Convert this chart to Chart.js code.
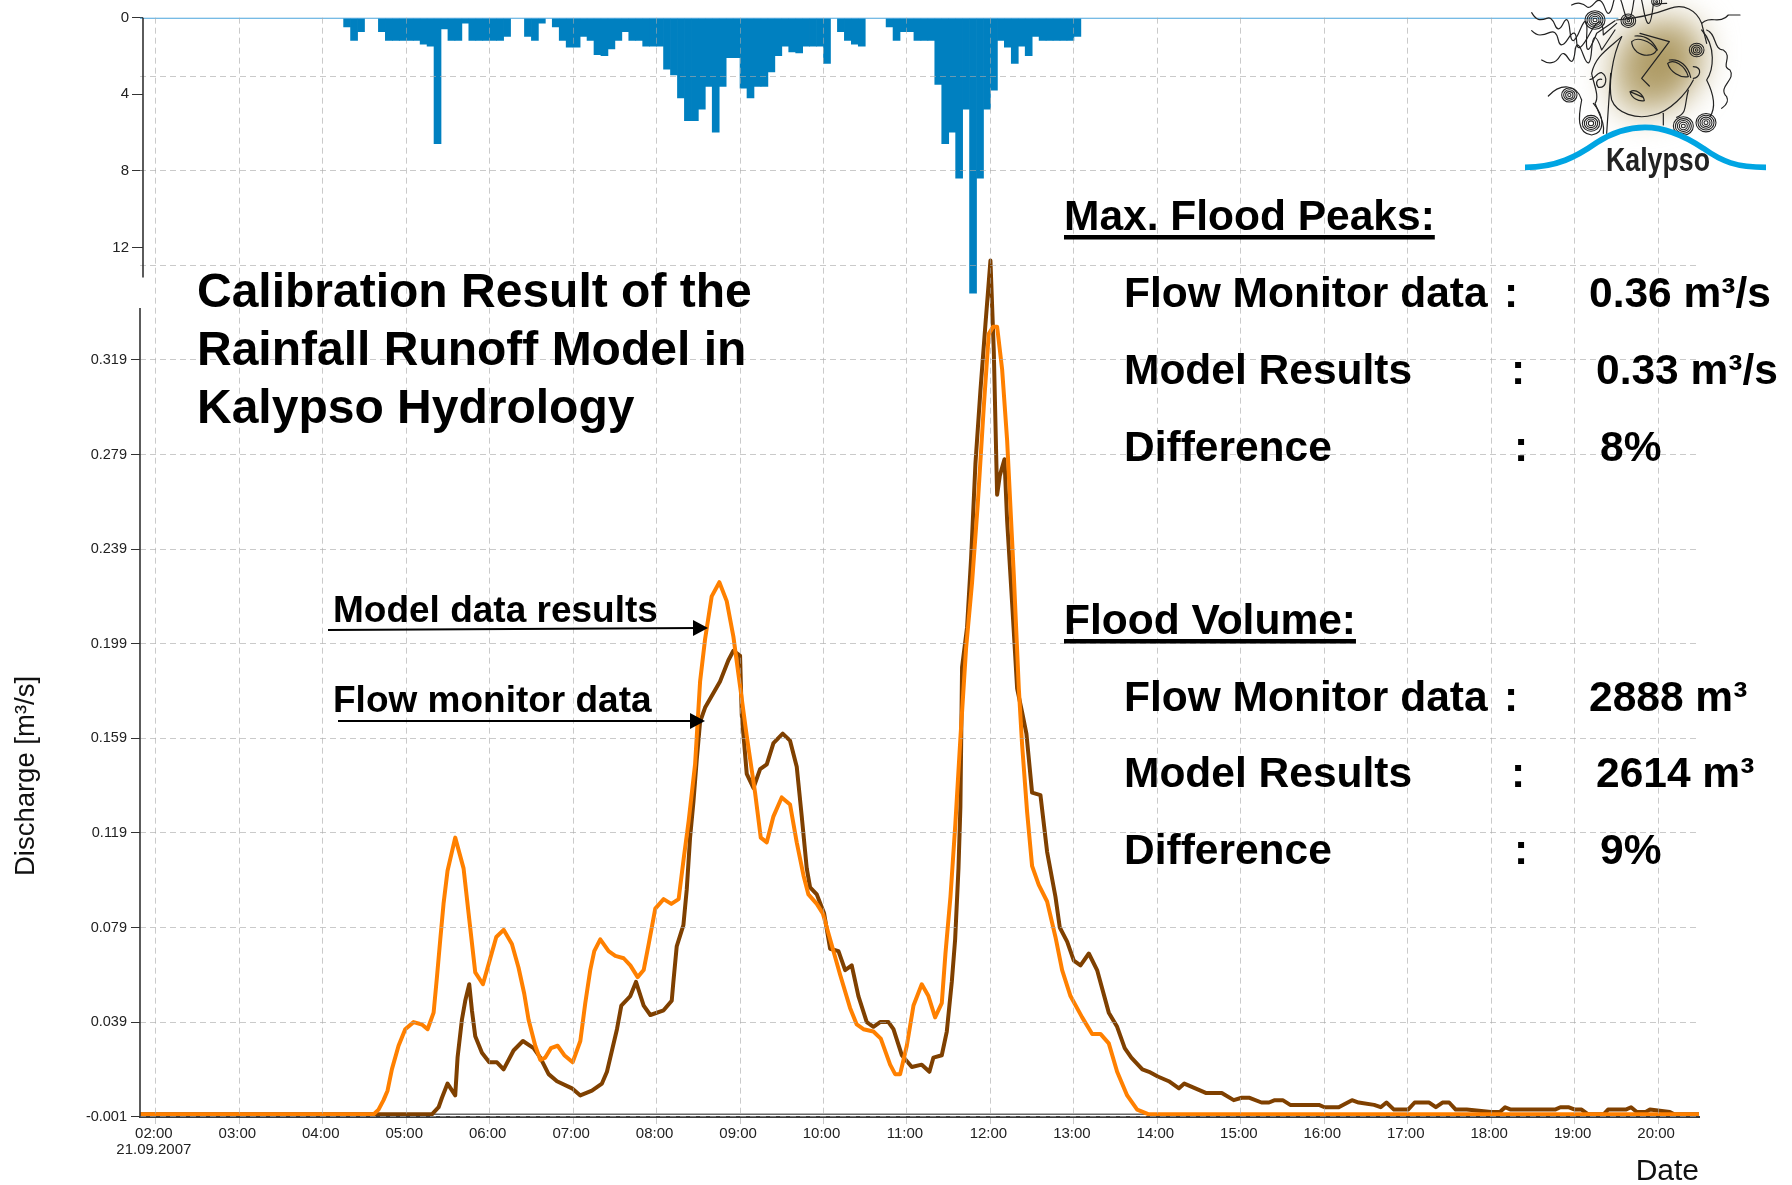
<!DOCTYPE html>
<html>
<head>
<meta charset="utf-8">
<script src="https://cdn.jsdelivr.net/npm/chart.js@4"></script>
<style>html,body{margin:0;padding:0;background:#fff}canvas{display:block}</style>
</head>
<body>
<canvas id="c" width="1792" height="1185"></canvas>
<script>
// ---------- data (time in decimal hours of 21.09.2007, discharge in m3/s, rain in mm) ----------
const modelHours = [1.81,4.608,4.668,4.728,4.776,4.828,4.908,4.988,5.088,5.188,5.256,5.328,5.368,5.408,5.447,5.495,5.587,5.687,5.747,5.827,5.919,5.999,6.079,6.167,6.266,6.346,6.414,6.466,6.546,6.606,6.666,6.734,6.814,6.894,6.994,7.086,7.145,7.205,7.253,7.325,7.425,7.505,7.605,7.685,7.773,7.845,7.905,7.984,8.084,8.176,8.264,8.324,8.384,8.461,8.521,8.581,8.660,8.752,8.840,8.920,9.000,9.080,9.180,9.248,9.320,9.400,9.499,9.599,9.679,9.760,9.819,9.919,9.991,10.079,10.199,10.318,10.398,10.478,10.598,10.686,10.798,10.858,10.918,10.998,11.078,11.177,11.257,11.337,11.417,11.461,11.521,11.580,11.640,11.708,11.780,11.848,11.920,11.980,12.032,12.080,12.140,12.200,12.280,12.340,12.380,12.439,12.499,12.579,12.679,12.779,12.859,12.959,13.099,13.219,13.318,13.418,13.518,13.638,13.758,13.898,20.49];
const modelValues = [0,0,.002,.006,.010,.019,.029,.036,.039,.038,.036,.043,.058,.074,.089,.103,.117,.104,.085,.060,.055,.065,.075,.078,.072,.062,.051,.040,.029,.023,.024,.028,.029,.025,.022,.031,.047,.061,.069,.074,.069,.067,.066,.063,.058,.061,.072,.087,.091,.089,.091,.108,.124,.148,.183,.201,.219,.225,.217,.202,.181,.160,.136,.117,.115,.126,.134,.131,.115,.101,.093,.089,.085,.074,.059,.045,.038,.036,.035,.032,.021,.017,.017,.029,.046,.055,.050,.041,.047,.068,.092,.123,.159,.197,.225,.258,.299,.330,.333,.333,.315,.285,.228,.180,.156,.128,.105,.097,.090,.075,.061,.050,.041,.034,.034,.030,.018,.008,.002,0,0];
const monitorHours = [1.81,5.308,5.388,5.428,5.495,5.587,5.615,5.667,5.707,5.755,5.787,5.827,5.907,5.995,6.087,6.167,6.286,6.398,6.526,6.606,6.706,6.806,6.986,7.086,7.225,7.345,7.405,7.465,7.525,7.577,7.685,7.753,7.845,7.925,8.084,8.181,8.201,8.241,8.321,8.361,8.401,8.441,8.481,8.521,8.581,8.760,8.860,8.920,9.000,9.020,9.080,9.160,9.240,9.320,9.400,9.511,9.599,9.679,9.739,9.799,9.839,9.919,10.007,10.079,10.179,10.259,10.338,10.418,10.518,10.598,10.678,10.778,10.838,10.938,11.058,11.177,11.269,11.317,11.417,11.477,11.537,11.577,11.617,11.640,11.660,11.720,11.768,11.820,11.880,11.940,12.000,12.040,12.080,12.112,12.168,12.200,12.260,12.320,12.380,12.431,12.499,12.599,12.679,12.779,12.831,12.919,12.999,13.079,13.179,13.278,13.418,13.518,13.609,13.688,13.820,13.900,14.005,14.137,14.259,14.323,14.455,14.587,14.772,14.915,15.010,15.105,15.248,15.338,15.407,15.502,15.592,15.935,16.004,16.173,16.332,16.412,16.597,16.676,16.745,16.835,17.004,17.083,17.257,17.337,17.416,17.496,17.575,17.707,17.998,18.104,18.167,18.236,18.447,18.765,18.829,18.924,19.003,19.083,19.162,19.347,19.400,19.612,19.676,19.745,19.850,19.902,20.140,20.193,20.49];
const monitorValues = [0,0,.003,.007,.013,.008,.024,.040,.048,.055,.044,.033,.026,.022,.022,.019,.027,.031,.028,.024,.017,.014,.011,.008,.010,.013,.018,.027,.036,.046,.050,.056,.046,.042,.044,.048,.056,.071,.080,.095,.117,.132,.150,.166,.172,.183,.192,.196,.194,.169,.144,.138,.146,.148,.157,.161,.158,.147,.126,.104,.096,.093,.085,.070,.069,.061,.063,.050,.039,.037,.039,.039,.036,.025,.020,.021,.018,.024,.025,.035,.056,.074,.104,.130,.189,.206,.235,.275,.306,.334,.361,.323,.262,.270,.277,.251,.216,.180,.170,.161,.136,.135,.111,.092,.079,.073,.065,.063,.068,.061,.043,.037,.028,.024,.019,.018,.016,.014,.011,.013,.011,.009,.009,.006,.007,.007,.005,.005,.006,.006,.004,.004,.003,.003,.006,.005,.004,.003,.005,.002,.002,.005,.005,.003,.005,.005,.002,.002,.001,.001,.003,.002,.002,.002,.003,.003,.002,.002,0,0,.002,.002,.003,.001,.001,.002,.001,0,0];
const rainMinutes = [257.5,262.5,267.5,272.5,277.5,282.5,287.5,292.5,297.5,302.5,307.5,312.5,317.5,322.5,327.5,332.5,337.5,342.5,347.5,352.5,357.5,362.5,367.5,372.5,377.5,382.5,387.5,392.5,397.5,402.5,407.5,412.5,417.5,422.5,427.5,432.5,437.5,442.5,447.5,452.5,457.5,462.5,467.5,472.5,477.5,482.5,487.5,492.5,497.5,502.5,507.5,512.5,517.5,522.5,527.5,532.5,537.5,542.5,547.5,552.5,557.5,562.5,567.5,572.5,577.5,582.5,587.5,592.5,597.5,602.5,607.5,612.5,617.5,622.5,627.5,632.5,637.5,642.5,647.5,652.5,657.5,662.5,667.5,672.5,677.5,682.5,687.5,692.5,697.5,702.5,707.5,712.5,717.5,722.5,727.5,732.5,737.5,742.5,747.5,752.5,757.5,762.5,767.5,772.5,777.5,782.5];
const rainValues = [.5,1.2,.75,0,0,.75,1.2,1.2,1.2,1.2,1.2,1.4,1.5,6.6,.6,1.2,1.2,.3,1.2,1.2,1.2,1.2,1.2,1.0,0,0,1.0,1.2,.3,0,.5,1.2,1.55,1.55,1.0,1.2,1.95,2.0,1.65,1.2,.75,1.2,1.2,1.5,1.5,1.5,2.7,3.0,4.2,5.4,5.4,4.8,3.6,6.0,3.6,2.1,2.1,3.7,4.2,3.6,3.6,2.85,2.0,1.5,1.8,1.85,1.5,1.5,1.5,2.4,0,.75,1.2,1.4,1.5,0,0,0,.5,1.2,.75,.75,1.2,1.2,1.2,3.5,6.6,6.0,8.4,4.8,14.4,8.4,4.8,3.8,1.2,1.55,2.4,1.5,2.0,1.0,1.2,1.2,1.2,1.2,1.2,1.0];
const zeroHours = [1.81,20.49];
const zeroValues = [0,0];
const hourTicks = [2,3,4,5,6,7,8,9,10,11,12,13,14,15,16,17,18,19,20];
const hourLabels = [['02:00','21.09.2007'],'03:00','04:00','05:00','06:00','07:00','08:00','09:00','10:00','11:00','12:00','13:00','14:00','15:00','16:00','17:00','18:00','19:00','20:00'];
const dischargeTicks = [-0.001,0.039,0.079,0.119,0.159,0.199,0.239,0.279,0.319,0.359,0.399,0.439];
const dischargeLabelled = 0.319;
const rainTicks = [0,4,8,12];
const titleLines = ['Calibration Result of the','Rainfall Runoff Model in','Kalypso Hydrology'];

const FONT = '"Liberation Sans", Arial, sans-serif';
const GRID = 'rgba(170,170,170,0.62)';
const DASH = [6, 4];
const pts = (xs, ys) => xs.map((x, i) => ({x, y: ys[i]}));

// ---------- text, arrows, axis stubs and logo ----------
function text(ctx, s, x, y, font) { ctx.font = font; ctx.fillText(s, x, y); }
function underlined(ctx, s, x, y, font, uy) {
  text(ctx, s, x, y, font);
  ctx.fillRect(x, uy, ctx.measureText(s).width, 4.5);
}
function arrow(ctx, x0, y0, x1, y1) {
  ctx.lineWidth = 2; ctx.strokeStyle = '#000';
  ctx.beginPath(); ctx.moveTo(x0, y0); ctx.lineTo(x1 - 8, y1); ctx.stroke();
  ctx.beginPath(); ctx.moveTo(x1, y1); ctx.lineTo(x1 - 15, y1 - 8); ctx.lineTo(x1 - 15, y1 + 8); ctx.closePath(); ctx.fill();
}
function spiral(ctx, x, y, r) {
  ctx.lineWidth = 3.2;
  for (let k = r; k > 2; k -= 6) { ctx.beginPath(); ctx.ellipse(x, y, k, k * 0.92, 0, 0, 7); ctx.stroke(); }
}
function logo(ctx) {
  ctx.save();
  ctx.translate(1480, 0); ctx.scale(1 / 3, 1 / 3);
  ctx.fillStyle = '#fff';
  ctx.fillRect(415, 0, 245, 70);
  ctx.fillRect(335, 62, 325, 320);
  ctx.fillRect(385, 380, 275, 145);
  // face shading
  ctx.save();
  ctx.filter = 'blur(16px)';
  const g = ctx.createRadialGradient(560, 190, 20, 530, 190, 170);
  g.addColorStop(0, '#a8935a'); g.addColorStop(0.6, '#b9a878'); g.addColorStop(1, '#dcd3b6');
  ctx.fillStyle = g;
  ctx.fill(new Path2D('M405,150 C430,80 560,25 640,65 C690,105 680,200 640,260 C590,335 490,365 430,335 C385,305 385,220 405,150Z'));
  ctx.restore();
  // line work
  ctx.strokeStyle = '#222'; ctx.lineWidth = 3.6; ctx.lineJoin = 'round'; ctx.lineCap = 'round';
  [
    'M425,110 C395,170 385,260 395,300 C410,340 470,360 520,345 C570,335 620,280 640,240',
    'M410,60 C470,55 530,40 570,25 C610,10 650,30 665,70 L680,130',
    'M480,100 L568,125 L485,235 L508,258',
    'M455,125 C470,110 510,120 530,150 C520,170 490,170 470,155 C460,145 455,135 455,125Z',
    'M465,108 C500,105 520,125 532,150',
    'M563,190 C580,175 615,195 625,230 C600,235 570,215 563,190Z',
    'M568,180 C600,175 625,200 632,232',
    'M450,275 C470,265 490,285 493,302 C475,305 455,295 450,275Z M450,275 L490,292',
    'M155,38 Q165,55 175,58 T200,55 T225,75 T250,70 T270,95 T300,90 T320,110 T350,100 L405,62',
    'M155,92 Q168,105 180,105 T210,97 T235,120 T265,115 T290,125 T330,100 T370,105 L410,70',
    'M185,180 Q200,190 215,188 T240,168 T265,175 T285,155 T310,165 T335,148 T365,150 L405,90',
    'M275,15 Q288,8 300,10 T320,20 T345,8 T375,25 T400,8 T430,25 T460,12 T490,25 T520,12 L560,10',
    'M665,70 C690,45 720,75 745,45 L780,45',
    'M680,90 C710,100 700,150 730,150 C760,170 720,200 750,210 C770,240 710,260 740,290 C750,310 730,320 725,325',
    'M665,90 C710,140 700,210 680,240 C700,280 710,320 690,350',
    'M640,200 C670,200 660,235 640,235',
    'M625,270 C612,320 622,340 590,352',
    'M550,340 L550,375',
    'M425,110 C380,150 345,170 335,220 C340,250 360,290 345,310 C360,350 375,370 370,400',
    'M392,220 L380,400',
    'M205,288 C240,250 290,250 305,300 C295,350 290,400 335,405 C375,400 375,350 340,310',
    'M330,238 C345,240 350,215 365,218 C385,230 380,265 355,262 C345,250 350,235 365,238'
  ].forEach(d => ctx.stroke(new Path2D(d)));
  [[345,60,30],[445,62,22],[650,150,22],[268,285,23],[333,370,26],[610,378,30],[678,368,30],[530,5,15]].forEach(s => spiral(ctx, s[0], s[1], s[2]));
  // wave and name
  ctx.strokeStyle = '#00a5e3'; ctx.lineWidth = 17; ctx.lineCap = 'butt';
  ctx.stroke(new Path2D('M135,502 C230,502 290,470 350,428 C400,395 450,382 495,382 C550,382 610,405 670,445 C725,485 770,502 858,502'));
  ctx.fillStyle = '#222';
  ctx.font = 'bold 98px ' + FONT;
  ctx.fillText('Kalypso', 378, 512, 312);
  ctx.restore();
}

const overlay = {
  id: 'overlay',
  afterLayout(chart) {
    // the rain axis sits a little to the right of the discharge axis; its box must span its labels
    chart.scales.y2.left = 0; chart.scales.y2.right = 143;
  },
  afterDraw(chart) {
    const ctx = chart.ctx, yS = chart.scales.y, rS = chart.scales.y2;
    ctx.save();
    ctx.strokeStyle = '#333'; ctx.lineWidth = 1.6;
    ctx.beginPath(); ctx.moveTo(143, rS.getPixelForValue(0)); ctx.lineTo(143, rS.getPixelForValue(13.57)); ctx.stroke();
    ctx.beginPath(); ctx.moveTo(140, yS.getPixelForValue(0.341)); ctx.lineTo(140, yS.getPixelForValue(-0.001)); ctx.stroke();

    logo(ctx);

    ctx.fillStyle = '#000'; ctx.textAlign = 'left'; ctx.textBaseline = 'alphabetic';
    const T = 'bold 48px ' + FONT, H = 'bold 42.5px ' + FONT, A = 'bold 37px ' + FONT;
    titleLines.forEach((s, i) => text(ctx, s, 197, 307 + i * 57.8, T));

    underlined(ctx, 'Max. Flood Peaks:', 1064, 230, H, 235);
    text(ctx, 'Flow Monitor data', 1124, 307, H); text(ctx, ':', 1504, 307, H); text(ctx, '0.36 m³/s', 1589, 307, H);
    text(ctx, 'Model Results', 1124, 384, H);     text(ctx, ':', 1511, 384, H); text(ctx, '0.33 m³/s', 1596, 384, H);
    text(ctx, 'Difference', 1124, 461, H);        text(ctx, ':', 1514, 461, H); text(ctx, '8%', 1600, 461, H);

    underlined(ctx, 'Flood Volume:', 1064, 634, H, 639);
    text(ctx, 'Flow Monitor data', 1124, 711, H); text(ctx, ':', 1504, 711, H); text(ctx, '2888 m³', 1589, 711, H);
    text(ctx, 'Model Results', 1124, 787, H);     text(ctx, ':', 1511, 787, H); text(ctx, '2614 m³', 1596, 787, H);
    text(ctx, 'Difference', 1124, 864, H);        text(ctx, ':', 1514, 864, H); text(ctx, '9%', 1600, 864, H);

    text(ctx, 'Model data results', 333, 622, A);
    text(ctx, 'Flow monitor data', 333, 712, A);
    arrow(ctx, 328, 630, 708, 628);
    arrow(ctx, 338, 721, 705, 721);

    ctx.save();
    ctx.translate(26.5, 776); ctx.rotate(-Math.PI / 2);
    ctx.fillStyle = '#111'; ctx.textAlign = 'center'; ctx.textBaseline = 'middle';
    ctx.font = '27.5px ' + FONT; ctx.fillText('Discharge [m³/s]', 0, 0);
    ctx.restore();
    ctx.restore();
  }
};

new Chart(document.getElementById('c'), {
  type: 'bar',
  plugins: [overlay],
  data: {
    datasets: [
      { type: 'line', label: 'Model data results', data: pts(modelHours, modelValues), yAxisID: 'y', borderColor: '#ff8000', borderWidth: 4, pointRadius: 0, tension: 0, order: 0, borderJoinStyle: 'round' },
      { type: 'line', label: 'Flow monitor data', data: pts(monitorHours, monitorValues), yAxisID: 'y', borderColor: '#7f4000', borderWidth: 4, pointRadius: 0, tension: 0, order: 1, borderJoinStyle: 'round' },
      { type: 'line', label: 'Zero discharge', data: pts(zeroHours, zeroValues), yAxisID: 'y', borderColor: '#666', borderWidth: 1.5, pointRadius: 0, order: 2 },
      { type: 'line', label: 'Rain base', data: pts(zeroHours, zeroValues), yAxisID: 'y2', borderColor: '#4aa5dc', borderWidth: 2, pointRadius: 0, order: 3 },
      { type: 'bar', label: 'Rainfall', data: pts(rainMinutes.map(m => m / 60), rainValues), yAxisID: 'y2', backgroundColor: '#0080c0', borderColor: '#0080c0', borderWidth: 0, barPercentage: 1.1, categoryPercentage: 1, order: 4 }
    ]
  },
  options: {
    responsive: false, animation: false, devicePixelRatio: 1,
    layout: { padding: { top: 17.7, right: 93, bottom: 0, left: 0 } },
    plugins: { legend: { display: false }, tooltip: { enabled: false }, title: { display: false } },
    scales: {
      x: {
        type: 'linear', min: 1.81, max: 20.49, offset: false,
        afterFit: s => { s.height = 68.3; },
        afterBuildTicks: s => { s.ticks = hourTicks.map(v => ({ value: v })); },
        grid: { offset: false, color: GRID, lineWidth: 1, tickLength: 9, tickColor: GRID, tickBorderDash: DASH, z: 1 },
        border: { display: true, color: '#3a3a3a', width: 2, dash: DASH, z: 1 },
        ticks: {
          autoSkip: false, maxRotation: 0, padding: 0, labelOffset: -2, color: '#222',
          font: { family: FONT, size: 15, lineHeight: 1.08 },
          callback: (v, i) => hourLabels[i]
        },
        title: { display: true, text: 'Date', align: 'end', color: '#111', padding: { top: 0, bottom: -2 }, font: { family: FONT, size: 30, lineHeight: 1 } }
      },
      y: {
        position: 'left', min: -0.001, max: 0.4637, weight: 1,
        afterFit: s => { s.width = 140; },
        afterBuildTicks: s => { s.ticks = dischargeTicks.map(v => ({ value: v })); },
        grid: {
          color: GRID, lineWidth: 1, tickLength: 9, z: 1,
          tickColor: c => (c.tick && c.tick.value <= dischargeLabelled ? '#333' : 'rgba(0,0,0,0)')
        },
        border: { display: false, dash: DASH },
        ticks: {
          autoSkip: false, padding: 4, color: '#222', font: { family: FONT, size: 14.5 },
          callback: v => (v <= dischargeLabelled + 1e-6 ? v.toFixed(3) : '')
        }
      },
      y2: {
        position: 'left', reverse: true, min: 0, max: 57.39, weight: 0,
        afterFit: s => { s.width = 0; },
        afterBuildTicks: s => { s.ticks = rainTicks.map(v => ({ value: v })); },
        grid: { drawOnChartArea: false, tickLength: 11, tickColor: '#333', lineWidth: 1 },
        border: { display: false },
        ticks: { autoSkip: false, padding: 3, color: '#222', font: { family: FONT, size: 15 } }
      }
    }
  }
});
</script>
</body>
</html>
